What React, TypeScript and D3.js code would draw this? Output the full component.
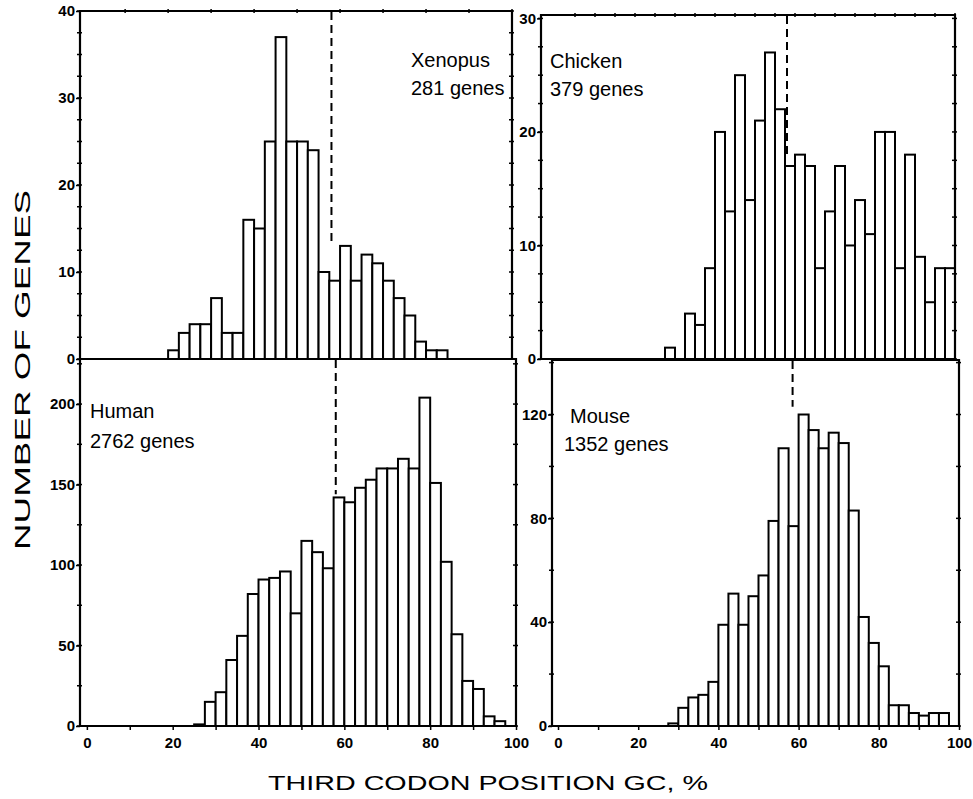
import React, { useEffect, useRef } from 'react';
import * as d3 from 'd3';

// histogram data, bins of 2.5 % GC3
const species = ['Xenopus', 'Chicken', 'Human', 'Mouse'];
const geneTotals = [281, 379, 2762, 1352];
const binWidth = 2.5;
const binStarts = [20, 27.5, 25, 27.5];

const xenopusCounts = [1, 3, 4, 4, 7, 3, 3, 16, 15, 25, 37, 25, 25, 24, 10, 9, 13, 9, 12, 11, 9, 7, 5, 2, 1, 1];
const chickenCounts = [1, 0, 4, 3, 8, 20, 13, 25, 14, 21, 27, 22, 17, 18, 17, 8, 13, 17, 10, 14, 11, 20, 20, 8, 18, 9, 5, 8, 8];
const humanCounts = [1, 15, 21, 41, 56, 82, 91, 92, 96, 70, 115, 108, 98, 142, 139, 148, 153, 160, 160, 166, 160, 204, 151, 102, 57, 28, 23, 6, 3];
const mouseCounts = [1, 7, 11, 12, 17, 39, 51, 39, 50, 58, 79, 107, 77, 120, 114, 107, 113, 109, 83, 42, 32, 23, 8, 8, 5, 4, 5, 5];
const allCounts = [xenopusCounts, chickenCounts, humanCounts, mouseCounts];

// dashed marker (x in GC %, lower end in gene counts)
const markerGC = [58, 58, 58, 58.5];
const markerEnd = [13.5, 17.7, 144, 123];

const yTickValues = [[0, 10, 20, 30, 40], [0, 10, 20, 30], [0, 50, 100, 150, 200], [0, 40, 80, 120]];
const xTickValues = [0, 10, 20, 30, 40, 50, 60, 70, 80, 90, 100];

// layout of the four panels
const panels = [
  { left: 80, right: 512, top: 11, bottom: 359, xMin: -0.5, yMax: 40, minor: 2.5, topStep: 10, nameX: 411, nameY: 67, countX: 411, countY: 95, xAxis: false },
  { left: 541, right: 955, top: 15, bottom: 359, xMin: -3.5, yMax: 30.3, minor: 2.5, topStep: 5, nameX: 550, nameY: 68, countX: 550, countY: 96, xAxis: false },
  { left: 80, right: 516, top: 359, bottom: 726, xMin: -1.6, yMax: 228, minor: 25, topStep: 0, nameX: 90, nameY: 418, countX: 90, countY: 448, xAxis: true },
  { left: 552, right: 959, top: 360, bottom: 726, xMin: -1.5, yMax: 141, minor: 20, topStep: 0, nameX: 570, nameY: 423, countX: 564, countY: 451, xAxis: true },
];

const FONT = "'Liberation Sans', Arial, Helvetica, sans-serif";

const App = () => {
  const svgRef = useRef(null);

  useEffect(() => {
    const svg = d3.select(svgRef.current);
    svg.selectAll('*').remove();

    panels.forEach((p, i) => {
      const x = d3.scaleLinear().domain([p.xMin, 100]).range([p.left, p.right]);
      const y = d3.scaleLinear().domain([0, p.yMax]).range([p.bottom, p.top]);
      const g = svg.append('g');

      const bins = allCounts[i]
        .map((n, j) => ({ x0: binStarts[i] + j * binWidth, n }))
        .filter(d => d.n > 0);

      g.selectAll('rect.bar')
        .data(bins)
        .join('rect')
        .attr('class', 'bar')
        .attr('x', d => x(d.x0))
        .attr('width', d => x(d.x0 + binWidth) - x(d.x0))
        .attr('y', d => y(d.n))
        .attr('height', d => y(0) - y(d.n))
        .attr('fill', '#fff')
        .attr('stroke', '#000')
        .attr('stroke-width', 2);

      // frame
      g.append('path')
        .attr('d', `M${p.left},${p.bottom}V${p.top}H${p.right}V${p.bottom}Z`)
        .attr('fill', 'none')
        .attr('stroke', '#000')
        .attr('stroke-width', 2.2);

      // minor ticks on left and right edges
      const minorVals = d3.range(0, p.yMax + 0.01, p.minor);
      g.selectAll('line.minor')
        .data(minorVals)
        .join('line')
        .attr('class', 'minor')
        .attr('x1', p.left - 3).attr('x2', p.left + 2)
        .attr('y1', d => y(d)).attr('y2', d => y(d))
        .attr('stroke', '#000').attr('stroke-width', 1.5);
      g.selectAll('line.rminor')
        .data(minorVals)
        .join('line')
        .attr('class', 'rminor')
        .attr('x1', p.right - 3).attr('x2', p.right + 2)
        .attr('y1', d => y(d)).attr('y2', d => y(d))
        .attr('stroke', '#000').attr('stroke-width', 1.5);

      // ticks along the top edge
      if (p.topStep) {
        g.selectAll('line.topTick')
          .data(d3.range(p.topStep, 100.01, p.topStep))
          .join('line')
          .attr('class', 'topTick')
          .attr('x1', d => x(d)).attr('x2', d => x(d))
          .attr('y1', p.top - 2).attr('y2', p.top + 2)
          .attr('stroke', '#000').attr('stroke-width', 1.5);
      }

      // y axis
      const yAxis = d3.axisLeft(y).tickValues(yTickValues[i]).tickSize(4).tickPadding(1);
      const ya = g.append('g').attr('transform', `translate(${p.left},0)`).call(yAxis);
      ya.select('.domain').remove();
      ya.selectAll('line').attr('stroke-width', 1.5);
      ya.selectAll('text')
        .attr('font-family', FONT)
        .attr('font-size', 15)
        .attr('font-weight', 'bold')
        .attr('fill', '#000');

      // x axis
      if (p.xAxis) {
        const xAxis = d3.axisBottom(x)
          .tickValues(xTickValues)
          .tickSize(4)
          .tickPadding(7)
          .tickFormat(d => (+d % 20 === 0 ? String(d) : ''));
        const xa = g.append('g').attr('transform', `translate(0,${p.bottom})`).call(xAxis);
        xa.select('.domain').remove();
        xa.selectAll('line').attr('stroke-width', 1.5);
        xa.selectAll('text')
          .attr('font-family', FONT)
          .attr('font-size', 15)
          .attr('font-weight', 'bold')
          .attr('fill', '#000');
      }

      // dashed marker
      g.append('line')
        .attr('x1', x(markerGC[i])).attr('x2', x(markerGC[i]))
        .attr('y1', p.top + 1).attr('y2', y(markerEnd[i]))
        .attr('stroke', '#000')
        .attr('stroke-width', 2)
        .attr('stroke-dasharray', '8,5');

      // species labels
      g.append('text')
        .attr('x', p.nameX).attr('y', p.nameY)
        .attr('font-family', FONT).attr('font-size', 20)
        .text(species[i]);
      g.append('text')
        .attr('x', p.countX).attr('y', p.countY)
        .attr('font-family', FONT).attr('font-size', 20)
        .text(`${geneTotals[i]} genes`);
    });

    // axis titles
    svg.append('text')
      .attr('transform', 'translate(30,370) rotate(-90)')
      .attr('text-anchor', 'middle')
      .attr('font-family', FONT)
      .attr('font-size', 22)
      .attr('textLength', 360)
      .attr('lengthAdjust', 'spacingAndGlyphs')
      .text('NUMBER OF GENES');

    svg.append('text')
      .attr('x', 488).attr('y', 790)
      .attr('text-anchor', 'middle')
      .attr('font-family', FONT)
      .attr('font-size', 21)
      .attr('textLength', 440)
      .attr('lengthAdjust', 'spacingAndGlyphs')
      .text('THIRD CODON POSITION GC, %');
  }, []);

  return (
    <svg ref={svgRef} width={973} height={799} style={{ position: 'absolute', left: 0, top: 0, background: '#fff' }}></svg>
  );
};

export default App;
